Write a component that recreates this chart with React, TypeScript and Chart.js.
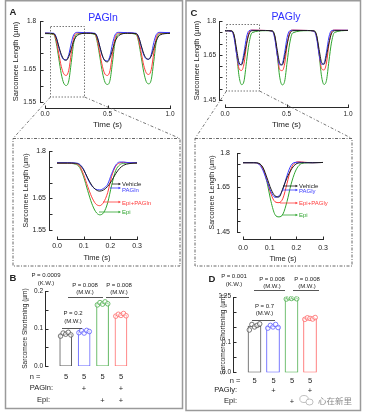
import React, { useEffect, useRef } from 'react';
import { Chart, registerables } from 'chart.js';

Chart.register(...registerables);

const FONT = "'Liberation Sans', Arial, Helvetica, sans-serif";

const COL_VEH = '#1e1e1e';
const COL_PAG = '#3a3aff';
const COL_EPIPAG = '#ff3b3b';
const COL_EPI = '#2fa52f';

// ---------- Panel A : full recording (s, µm) ----------
const timeMainA = [0, 0.07, 0.09, 0.11, 0.13, 0.15, 0.17, 0.19, 0.21, 0.23, 0.26,
  0.33, 0.40, 0.42, 0.44, 0.46, 0.48, 0.50, 0.52, 0.54, 0.56, 0.59,
  0.66, 0.73, 0.75, 0.77, 0.79, 0.81, 0.83, 0.85, 0.87, 0.89, 0.92, 1.0];
const vehMainA = [1.762, 1.761, 1.748, 1.722, 1.697, 1.682, 1.679, 1.690, 1.714, 1.738, 1.756,
  1.762, 1.761, 1.747, 1.719, 1.692, 1.677, 1.674, 1.686, 1.711, 1.736, 1.755,
  1.762, 1.761, 1.749, 1.724, 1.699, 1.685, 1.682, 1.692, 1.716, 1.739, 1.757, 1.762];
const pagMainA = [1.763, 1.762, 1.750, 1.720, 1.694, 1.681, 1.680, 1.696, 1.732, 1.758, 1.765,
  1.764, 1.762, 1.749, 1.718, 1.691, 1.678, 1.677, 1.693, 1.730, 1.757, 1.765,
  1.764, 1.762, 1.750, 1.721, 1.695, 1.683, 1.682, 1.697, 1.733, 1.758, 1.765, 1.764];
const epiPagMainA = [1.762, 1.760, 1.740, 1.700, 1.660, 1.637, 1.632, 1.648, 1.700, 1.748, 1.763,
  1.763, 1.760, 1.739, 1.699, 1.659, 1.636, 1.632, 1.647, 1.699, 1.747, 1.763,
  1.763, 1.760, 1.741, 1.702, 1.663, 1.640, 1.635, 1.650, 1.701, 1.748, 1.763, 1.763];
const epiMainA = [1.761, 1.758, 1.732, 1.685, 1.637, 1.608, 1.601, 1.615, 1.672, 1.733, 1.760,
  1.762, 1.758, 1.731, 1.686, 1.640, 1.611, 1.604, 1.617, 1.673, 1.734, 1.760,
  1.762, 1.758, 1.733, 1.688, 1.642, 1.613, 1.606, 1.619, 1.675, 1.735, 1.761, 1.762];

// ---------- Panel A : zoomed single beat ----------
const timeInA = [0, 0.04, 0.07, 0.085, 0.10, 0.115, 0.13, 0.145, 0.16, 0.175, 0.19, 0.205, 0.22, 0.235, 0.25, 0.27, 0.30];
const vehInA = [1.762, 1.762, 1.761, 1.756, 1.740, 1.715, 1.692, 1.678, 1.673, 1.677, 1.688, 1.706, 1.728, 1.745, 1.755, 1.760, 1.762];
const pagInA = [1.763, 1.763, 1.762, 1.758, 1.742, 1.712, 1.690, 1.679, 1.677, 1.682, 1.695, 1.728, 1.755, 1.765, 1.765, 1.763, 1.763];
const epiPagInA = [1.762, 1.762, 1.760, 1.752, 1.725, 1.688, 1.655, 1.633, 1.627, 1.638, 1.668, 1.720, 1.752, 1.762, 1.764, 1.763, 1.762];
const epiInA = [1.761, 1.761, 1.758, 1.748, 1.718, 1.675, 1.635, 1.608, 1.598, 1.605, 1.636, 1.692, 1.738, 1.756, 1.761, 1.762, 1.762];

// ---------- Panel C : full recording ----------
const timeMainC = [0, 0.055, 0.075, 0.095, 0.115, 0.135, 0.155, 0.175, 0.195, 0.22,
  0.33, 0.385, 0.405, 0.425, 0.445, 0.465, 0.485, 0.505, 0.525, 0.55,
  0.67, 0.725, 0.745, 0.765, 0.785, 0.805, 0.825, 0.845, 0.865, 0.89, 1.0];
const vehMainC = [1.757, 1.756, 1.735, 1.672, 1.615, 1.606, 1.645, 1.700, 1.742, 1.757,
  1.758, 1.756, 1.734, 1.670, 1.613, 1.605, 1.643, 1.698, 1.741, 1.757,
  1.758, 1.756, 1.736, 1.674, 1.617, 1.608, 1.647, 1.702, 1.743, 1.757, 1.758];
const pagMainC = [1.757, 1.754, 1.722, 1.650, 1.606, 1.612, 1.662, 1.728, 1.757, 1.759,
  1.758, 1.754, 1.721, 1.648, 1.605, 1.610, 1.660, 1.727, 1.756, 1.759,
  1.758, 1.754, 1.723, 1.652, 1.608, 1.613, 1.663, 1.729, 1.757, 1.759, 1.759];
const epiPagMainC = [1.757, 1.755, 1.730, 1.655, 1.588, 1.581, 1.612, 1.695, 1.750, 1.760,
  1.758, 1.755, 1.729, 1.652, 1.585, 1.580, 1.610, 1.693, 1.749, 1.760,
  1.758, 1.755, 1.731, 1.657, 1.590, 1.583, 1.614, 1.697, 1.751, 1.760, 1.759];
const epiMainC = [1.757, 1.756, 1.733, 1.650, 1.553, 1.518, 1.535, 1.620, 1.700, 1.748,
  1.757, 1.756, 1.732, 1.648, 1.551, 1.517, 1.533, 1.618, 1.698, 1.747,
  1.757, 1.756, 1.734, 1.652, 1.555, 1.519, 1.537, 1.622, 1.702, 1.749, 1.758];

// ---------- Panel C : zoomed single beat ----------
const timeInC = [0, 0.04, 0.06, 0.075, 0.09, 0.105, 0.12, 0.135, 0.15, 0.165, 0.18, 0.195, 0.21, 0.23, 0.26, 0.30];
const vehInC = [1.757, 1.757, 1.754, 1.735, 1.690, 1.640, 1.610, 1.605, 1.645, 1.690, 1.725, 1.748, 1.756, 1.757, 1.757, 1.758];
const pagInC = [1.757, 1.757, 1.750, 1.722, 1.675, 1.628, 1.604, 1.610, 1.640, 1.700, 1.745, 1.758, 1.759, 1.758, 1.757, 1.758];
const epiPagInC = [1.757, 1.757, 1.752, 1.730, 1.678, 1.618, 1.584, 1.580, 1.600, 1.665, 1.730, 1.757, 1.761, 1.759, 1.757, 1.758];
const epiInC = [1.757, 1.757, 1.753, 1.733, 1.670, 1.585, 1.527, 1.517, 1.530, 1.585, 1.660, 1.715, 1.745, 1.756, 1.757, 1.758];

// ---------- Panels B & D : shortening ----------
const groupPos = [1, 2, 3, 4];
const jitter = [-0.28, -0.14, 0, 0.14, 0.28];
const barColors = ['#555555', '#6060ff', '#4cae4c', '#ff6a6a'];
const meanB = [0.085, 0.092, 0.167, 0.136];
const pointsB = [
  [0.080, 0.088, 0.085, 0.090, 0.083],
  [0.089, 0.094, 0.088, 0.095, 0.092],
  [0.163, 0.169, 0.165, 0.171, 0.166],
  [0.133, 0.138, 0.135, 0.140, 0.134],
];
const meanD = [0.153, 0.152, 0.244, 0.178];
const pointsD = [
  [0.140, 0.158, 0.150, 0.155, 0.160],
  [0.146, 0.155, 0.150, 0.158, 0.148],
  [0.242, 0.246, 0.244, 0.247, 0.243],
  [0.175, 0.180, 0.178, 0.176, 0.181],
];

// tick values / labels
const ticksTimeMain = [0, 0.5, 1.0];
const labelsTimeMain = ['0.0', '0.5', '1.0'];
const ticksTimeIn = [0, 0.1, 0.2, 0.3];
const labelsTimeIn = ['0.0', '0.1', '0.2', '0.3'];
const ticksLenA = [1.55, 1.6, 1.65, 1.7, 1.75, 1.8];
const labelsLenA = ['1.55', '', '1.65', '', '', '1.8'];
const ticksLenC = [1.45, 1.5, 1.55, 1.6, 1.65, 1.7, 1.75, 1.8];
const labelsLenC = ['1.45', '', '', '', '1.65', '', '', '1.8'];
const ticksShortB = [0, 0.05, 0.1, 0.15, 0.2];
const labelsShortB = ['0.0', '', '0.1', '', '0.2'];
const ticksShortD = [0, 0.05, 0.1, 0.15, 0.2, 0.25];
const labelsShortD = ['0.0', '', '0.1', '', '', '0.25'];

type AxisSpec = {
  min: number; max: number; ticks: number[]; labels: string[];
  size: number; tl: number; pad: number; gap: number; tick: number;
  title?: string; titleSize?: number; tickFont: number;
};

const makeAxesPlugin = (xs: AxisSpec | null, ys: AxisSpec | null) => ({
  id: 'offsetAxes',
  afterDraw(chart: any) {
    const { ctx, chartArea } = chart;
    ctx.save();
    ctx.strokeStyle = '#2a2a2a';
    ctx.lineWidth = 1;
    ctx.beginPath();
    if (ys) {
      const s = chart.scales.y;
      const ax = Math.round(chartArea.left - ys.gap) + 0.5;
      const px = s.ticks.map((t: any) => Math.round(s.getPixelForValue(t.value)) + 0.5);
      ctx.moveTo(ax, Math.max(...px) + 0.5);
      ctx.lineTo(ax, Math.min(...px) - 0.5);
      px.forEach((p: number) => { ctx.moveTo(ax, p); ctx.lineTo(ax + ys.tick, p); });
    }
    if (xs) {
      const s = chart.scales.x;
      const ay = Math.round(chartArea.bottom + xs.gap) + 0.5;
      const px = s.ticks.map((t: any) => Math.round(s.getPixelForValue(t.value)) + 0.5);
      ctx.moveTo(Math.min(...px) - 0.5, ay);
      ctx.lineTo(Math.max(...px) + 0.5, ay);
      px.forEach((p: number) => { ctx.moveTo(p, ay); ctx.lineTo(p, ay - xs.tick); });
    }
    ctx.stroke();
    ctx.restore();
  },
});

const scaleOpts = (spec: AxisSpec, horizontal: boolean) => ({
  type: 'linear',
  min: spec.min,
  max: spec.max,
  offset: false,
  afterBuildTicks: (s: any) => { s.ticks = spec.ticks.map((v) => ({ value: v })); },
  afterFit: (s: any) => { if (horizontal) s.height = spec.size; else s.width = spec.size; },
  grid: { display: false, drawTicks: true, tickLength: spec.tl },
  border: { display: false },
  ticks: {
    padding: spec.pad, autoSkip: false, maxRotation: 0, minRotation: 0,
    color: '#222', font: { family: FONT, size: spec.tickFont },
    callback: (_v: any, i: number) => spec.labels[i],
  },
  title: {
    display: !!spec.title, text: spec.title, padding: 0, color: '#222',
    font: { family: FONT, size: spec.titleSize },
  },
});

type Series = { label: string; values: number[]; color: string };

const lineConfig = (times: number[], series: Series[], xs: AxisSpec, ys: AxisSpec, padTop: number, padRight: number) => () => ({
  type: 'line',
  data: {
    datasets: series.map((s) => ({
      label: s.label,
      data: times.map((t, i) => ({ x: t, y: s.values[i] })),
      borderColor: s.color,
      borderWidth: 1,
      pointRadius: 0,
      fill: false,
      cubicInterpolationMode: 'monotone',
    })),
  },
  options: {
    animation: false, responsive: false, events: [],
    layout: { padding: { top: padTop, right: padRight, left: 0, bottom: 0 } },
    plugins: { legend: { display: false }, tooltip: { enabled: false } },
    scales: { x: scaleOpts(xs, true), y: scaleOpts(ys, false) },
  },
  plugins: [makeAxesPlugin(xs, ys)],
});

const barConfig = (means: number[], points: number[][], ys: AxisSpec, thickness: number, padTop: number, padRight: number) => () => {
  const pts: { x: number; y: number }[] = [];
  const ptCols: string[] = [];
  points.forEach((grp, g) => grp.forEach((v, i) => {
    pts.push({ x: groupPos[g] + jitter[i], y: v });
    ptCols.push(barColors[g]);
  }));
  return {
    type: 'bar',
    data: {
      datasets: [
        {
          type: 'scatter', data: pts, showLine: false, pointRadius: 2.3,
          pointBorderWidth: 0.8, pointBorderColor: ptCols,
          pointBackgroundColor: 'rgba(255,255,255,0.6)', order: 0,
        },
        {
          type: 'bar', data: groupPos.map((x, i) => ({ x, y: means[i] })),
          backgroundColor: '#ffffff', borderColor: barColors, borderWidth: 1,
          borderSkipped: false, barThickness: thickness, order: 1,
        },
      ],
    },
    options: {
      animation: false, responsive: false, events: [],
      layout: { padding: { top: padTop, right: padRight, left: 0, bottom: 3 } },
      plugins: { legend: { display: false }, tooltip: { enabled: false } },
      scales: {
        x: { type: 'linear', min: 0.2, max: 4.6, display: false, offset: false, grid: { offset: false } },
        y: scaleOpts(ys, false),
      },
    },
    plugins: [makeAxesPlugin(null, ys)],
  };
};

const seriesA = (v: number[], p: number[], ep: number[], e: number[]): Series[] => [
  { label: 'Vehicle', values: v, color: COL_VEH },
  { label: 'PAGln', values: p, color: COL_PAG },
  { label: 'Epi+PAGln', values: ep, color: COL_EPIPAG },
  { label: 'Epi', values: e, color: COL_EPI },
];
const seriesC = (v: number[], p: number[], ep: number[], e: number[]): Series[] => [
  { label: 'Vehicle', values: v, color: COL_VEH },
  { label: 'PAGly', values: p, color: COL_PAG },
  { label: 'Epi+PAGly', values: ep, color: COL_EPIPAG },
  { label: 'Epi', values: e, color: COL_EPI },
];

const LEN = 'Sarcomere Length (µm)';
const SHORT = 'Sarcomere Shortening (µm)';

const charts = [
  {
    key: 'A', left: 11, top: 10, width: 167, height: 120,
    config: lineConfig(timeMainA, seriesA(vehMainA, pagMainA, epiPagMainA, epiMainA),
      { min: 0, max: 1, ticks: ticksTimeMain, labels: labelsTimeMain, size: 28, tl: 5, pad: 3, gap: 5.5, tick: 3, title: 'Time (s)', titleSize: 8, tickFont: 6.5 },
      { min: 1.55, max: 1.8, ticks: ticksLenA, labels: labelsLenA, size: 34, tl: 6, pad: 3, gap: 5, tick: 3, title: LEN, titleSize: 7.5, tickFont: 6.5 },
      11, 8),
  },
  {
    key: 'Ain', left: 22, top: 140, width: 138, height: 122,
    config: lineConfig(timeInA, seriesA(vehInA, pagInA, epiPagInA, epiInA),
      { min: 0, max: 0.3, ticks: ticksTimeIn, labels: labelsTimeIn, size: 32, tl: 9, pad: 3, gap: 9, tick: 3, title: 'Time (s)', titleSize: 7.5, tickFont: 7 },
      { min: 1.55, max: 1.8, ticks: ticksLenA, labels: labelsLenA, size: 35, tl: 8, pad: 3, gap: 8, tick: 3, title: LEN, titleSize: 7, tickFont: 7 },
      11, 23),
  },
  {
    key: 'C', left: 192, top: 10, width: 166, height: 120,
    config: lineConfig(timeMainC, seriesC(vehMainC, pagMainC, epiPagMainC, epiMainC),
      { min: 0, max: 1, ticks: ticksTimeMain, labels: labelsTimeMain, size: 30, tl: 6, pad: 4, gap: 7, tick: 3, title: 'Time (s)', titleSize: 8, tickFont: 6.5 },
      { min: 1.45, max: 1.8, ticks: ticksLenC, labels: labelsLenC, size: 33, tl: 6, pad: 3, gap: 6, tick: 3, title: LEN, titleSize: 7.5, tickFont: 6.5 },
      11, 10),
  },
  {
    key: 'Cin', left: 208, top: 140, width: 142, height: 123,
    config: lineConfig(timeInC, seriesC(vehInC, pagInC, epiPagInC, epiInC),
      { min: 0, max: 0.3, ticks: ticksTimeIn, labels: labelsTimeIn, size: 31, tl: 8, pad: 3.5, gap: 7, tick: 3, title: 'Time (s)', titleSize: 7.5, tickFont: 7 },
      { min: 1.45, max: 1.8, ticks: ticksLenC, labels: labelsLenC, size: 35, tl: 10, pad: 3, gap: 6, tick: 3, title: LEN, titleSize: 7, tickFont: 7 },
      13, 27),
  },
  {
    key: 'B', left: 21, top: 285, width: 119, height: 87,
    config: barConfig(meanB, pointsB,
      { min: 0, max: 0.2, ticks: ticksShortB, labels: labelsShortB, size: 30, tl: 6, pad: 2, gap: 6, tick: 3, title: SHORT, titleSize: 6.5, tickFont: 6.5 },
      12, 6, 8),
  },
  {
    key: 'D', left: 219, top: 290, width: 110, height: 89,
    config: barConfig(meanD, pointsD,
      { min: 0, max: 0.25, ticks: ticksShortD, labels: labelsShortD, size: 20.7, tl: 6, pad: 2.7, gap: 6.7, tick: 3, title: SHORT, titleSize: 6.5, tickFont: 6.5 },
      13, 6, 7.9),
  },
];

function ChartCanvas(props: { left: number; top: number; width: number; height: number; config: () => any }) {
  const ref = useRef<HTMLCanvasElement>(null);
  useEffect(() => {
    const chart = new Chart(ref.current as HTMLCanvasElement, props.config());
    return () => chart.destroy();
  }, []);
  return (
    <canvas ref={ref} width={props.width} height={props.height}
      style={{ position: 'absolute', left: props.left, top: props.top, width: props.width, height: props.height }} />
  );
}

type Txt = { t: string; x: number; y: number; s?: number; c?: string; a?: 'l' | 'c' | 'r'; b?: boolean; f?: string };

const texts: Txt[] = [
  { t: 'A', x: 13, y: 12, s: 9.5, b: true },
  { t: 'C', x: 194, y: 13, s: 9.5, b: true },
  { t: 'B', x: 13, y: 278, s: 9.5, b: true },
  { t: 'D', x: 212, y: 279, s: 9.5, b: true },
  { t: 'PAGln', x: 103, y: 17, s: 10.5, c: '#2f2fff' },
  { t: 'PAGly', x: 286, y: 16, s: 10.5, c: '#2f2fff' },
  // inset A labels
  { t: 'Vehicle', x: 122, y: 184, s: 6, c: COL_VEH, a: 'l' },
  { t: 'PAGln', x: 122, y: 189.5, s: 6, c: COL_PAG, a: 'l' },
  { t: 'Epi+PAGln', x: 122, y: 203, s: 6, c: COL_EPIPAG, a: 'l' },
  { t: 'Epi', x: 122, y: 212, s: 6, c: COL_EPI, a: 'l' },
  // inset C labels
  { t: 'Vehicle', x: 299, y: 185.5, s: 6, c: COL_VEH, a: 'l' },
  { t: 'PAGly', x: 299, y: 191, s: 6, c: COL_PAG, a: 'l' },
  { t: 'Epi+PAGly', x: 299, y: 203, s: 6, c: COL_EPIPAG, a: 'l' },
  { t: 'Epi', x: 299, y: 215, s: 6, c: COL_EPI, a: 'l' },
  // B statistics
  { t: 'P = 0.0009', x: 46, y: 275, s: 6 },
  { t: '(K.W.)', x: 46, y: 283, s: 6 },
  { t: 'P = 0.2', x: 73, y: 313, s: 6 },
  { t: '(M.W.)', x: 73, y: 321, s: 6 },
  { t: 'P = 0.008', x: 85, y: 285, s: 6 },
  { t: '(M.W.)', x: 85, y: 292, s: 6 },
  { t: 'P = 0.008', x: 119, y: 285, s: 6 },
  { t: '(M.W.)', x: 119, y: 292, s: 6 },
  // B rows
  { t: 'n =', x: 35, y: 377, s: 7.5 },
  { t: '5', x: 66, y: 377, s: 7.5 },
  { t: '5', x: 84, y: 377, s: 7.5 },
  { t: '5', x: 102.5, y: 377, s: 7.5 },
  { t: '5', x: 121, y: 377, s: 7.5 },
  { t: 'PAGln:', x: 53, y: 388, s: 7.5, a: 'r' },
  { t: '+', x: 84, y: 388.5, s: 7.5 },
  { t: '+', x: 121, y: 388.5, s: 7.5 },
  { t: 'Epi:', x: 50, y: 400, s: 7.5, a: 'r' },
  { t: '+', x: 102.5, y: 400.5, s: 7.5 },
  { t: '+', x: 121, y: 400.5, s: 7.5 },
  // D statistics
  { t: 'P = 0.001', x: 234, y: 276, s: 6 },
  { t: '(K.W.)', x: 234, y: 284, s: 6 },
  { t: 'P = 0.008', x: 272, y: 279, s: 6 },
  { t: '(M.W.)', x: 272, y: 286, s: 6 },
  { t: 'P = 0.008', x: 307, y: 279, s: 6 },
  { t: '(M.W.)', x: 307, y: 286, s: 6 },
  { t: 'P = 0.7', x: 264.5, y: 306, s: 6 },
  { t: '(M.W.)', x: 264.5, y: 313, s: 6 },
  // D rows
  { t: 'n =', x: 235, y: 381, s: 7.5 },
  { t: '5', x: 254.5, y: 381, s: 7.5 },
  { t: '5', x: 273.5, y: 381, s: 7.5 },
  { t: '5', x: 292, y: 381, s: 7.5 },
  { t: '5', x: 310, y: 381, s: 7.5 },
  { t: 'PAGly:', x: 237, y: 390, s: 7.5, a: 'r' },
  { t: '+', x: 273.5, y: 390.5, s: 7.5 },
  { t: '+', x: 310, y: 390.5, s: 7.5 },
  { t: 'Epi:', x: 237, y: 401, s: 7.5, a: 'r' },
  { t: '+', x: 292, y: 401.5, s: 7.5 },
  // watermark
  { t: '心在新里', x: 335, y: 400, s: 8.5, c: '#8a8a8a', f: "'Noto Sans CJK SC', sans-serif" },
];

const arrows: { x1: number; x2: number; y: number; c: string }[] = [
  { x1: 112, x2: 121, y: 184, c: COL_VEH },
  { x1: 110, x2: 121, y: 188, c: COL_PAG },
  { x1: 103, x2: 121, y: 202, c: COL_EPIPAG },
  { x1: 99, x2: 121, y: 212, c: COL_EPI },
  { x1: 283, x2: 298, y: 186, c: COL_VEH },
  { x1: 283, x2: 298, y: 190, c: COL_PAG },
  { x1: 280, x2: 298, y: 203, c: COL_EPIPAG },
  { x1: 282, x2: 298, y: 215, c: COL_EPI },
];

const brackets: { x1: number; x2: number; y: number }[] = [
  { x1: 62, x2: 82, y: 328 },
  { x1: 68, x2: 103, y: 297 },
  { x1: 106, x2: 129, y: 297 },
  { x1: 254, x2: 285, y: 290 },
  { x1: 293, x2: 319, y: 290 },
  { x1: 252, x2: 275, y: 320 },
];

export default function App() {
  return (
    <div style={{ position: 'absolute', left: 0, top: 0, width: 365, height: 416, background: '#fff', overflow: 'hidden', fontFamily: FONT }}>
      {charts.map((c) => (
        <ChartCanvas key={c.key} left={c.left} top={c.top} width={c.width} height={c.height} config={c.config} />
      ))}
      <svg width={365} height={416} style={{ position: 'absolute', left: 0, top: 0 }}>
        <rect x={5.5} y={0.75} width={177} height={407.75} fill="none" stroke="#9a9a9a" strokeWidth={1.5} />
        <rect x={186} y={0.75} width={174.5} height={409.75} fill="none" stroke="#9a9a9a" strokeWidth={1.5} />
        <rect x={50.5} y={26.5} width={34} height={70.5} fill="none" stroke="#555" strokeWidth={0.8} strokeDasharray="1.5 1.5" />
        <rect x={226.5} y={24.5} width={33} height={66.5} fill="none" stroke="#555" strokeWidth={0.8} strokeDasharray="1.5 1.5" />
        <rect x={13} y={138.5} width={167} height={127.5} fill="none" stroke="#555" strokeWidth={0.9} strokeDasharray="3 1.5 1 1.5" />
        <rect x={195} y={138.5} width={157} height={127.5} fill="none" stroke="#555" strokeWidth={0.9} strokeDasharray="3 1.5 1 1.5" />
        <line x1={50.5} y1={97} x2={13} y2={138.5} stroke="#555" strokeWidth={0.8} strokeDasharray="3 2 1 2" />
        <line x1={84.5} y1={97} x2={180} y2={138.5} stroke="#555" strokeWidth={0.8} strokeDasharray="3 2 1 2" />
        <line x1={226.5} y1={91} x2={195} y2={138.5} stroke="#555" strokeWidth={0.8} strokeDasharray="3 2 1 2" />
        <line x1={259.5} y1={91} x2={352} y2={138.5} stroke="#555" strokeWidth={0.8} strokeDasharray="3 2 1 2" />
        {arrows.map((a, i) => (
          <g key={'ar' + i}>
            <line x1={a.x1} y1={a.y} x2={a.x2 - 1.5} y2={a.y} stroke={a.c} strokeWidth={0.8} />
            <polygon points={`${a.x2},${a.y} ${a.x2 - 2.5},${a.y - 1.2} ${a.x2 - 2.5},${a.y + 1.2}`} fill={a.c} />
          </g>
        ))}
        {brackets.map((b, i) => (
          <line key={'br' + i} x1={b.x1} y1={b.y + 0.5} x2={b.x2} y2={b.y + 0.5} stroke="#444" strokeWidth={0.9} />
        ))}
        <ellipse cx={304} cy={399} rx={4.2} ry={3.5} fill="none" stroke="#b0b0b0" strokeWidth={0.8} />
        <ellipse cx={309.5} cy={402} rx={3.6} ry={3} fill="#fff" stroke="#b0b0b0" strokeWidth={0.8} />
      </svg>
      {texts.map((t, i) => {
        const tx = t.a === 'l' ? '0' : t.a === 'r' ? '-100%' : '-50%';
        return (
          <div key={'t' + i} style={{
            position: 'absolute', left: t.x, top: t.y, transform: `translate(${tx}, -50%)`,
            fontSize: t.s ?? 7, lineHeight: 1, whiteSpace: 'nowrap', color: t.c ?? '#222',
            fontWeight: t.b ? 700 : 400, fontFamily: t.f ?? FONT,
          }}>{t.t}</div>
        );
      })}
    </div>
  );
}
